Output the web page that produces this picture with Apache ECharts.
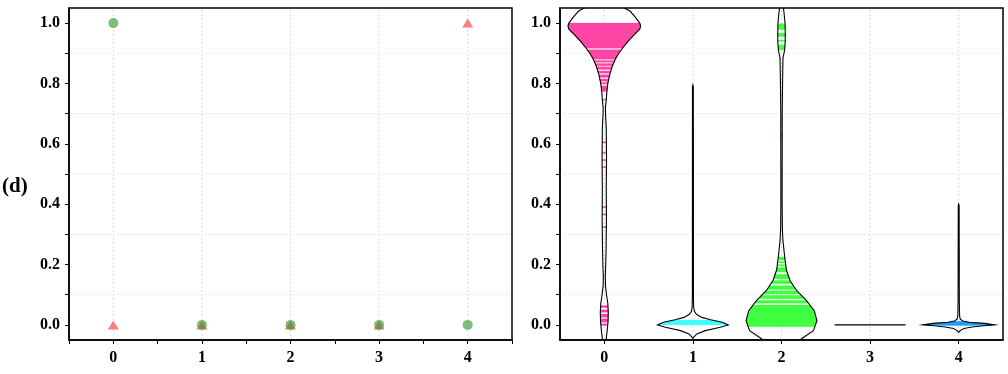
<!DOCTYPE html>
<html><head><meta charset="utf-8">
<script src="https://cdn.jsdelivr.net/npm/echarts@6/dist/echarts.min.js"></script>
<style>html,body{margin:0;padding:0;background:#fff}#c{width:1008px;height:374px}</style>
</head><body><div id="c"></div>
<script>
// ---- data ----
const categories = [0, 1, 2, 3, 4];
const circleVals = [1, 0, 0, 0, 0];
const triangleVals = [0, 0, 0, 0, 1];
const yLabelVals = [0, 0.2, 0.4, 0.6, 0.8, 1.0];
const yTickVals = [0, 0.1, 0.2, 0.3, 0.4, 0.5, 0.6, 0.7, 0.8, 0.9, 1.0];
const xTickValsLeft = [-0.5, 0, 0.5, 1, 1.5, 2, 2.5, 3, 3.5, 4, 4.5];
const xTickValsRight = [0, 1, 2, 3, 4];
const hGridVals = [0.1, 0.3, 0.5, 0.7, 0.9];

// violin outlines: [y, half width in category units]
const violin0Outline = [[-0.12,0],[-0.05,0.02],[-0.02,0.032],[0.01,0.042],[0.04,0.045],[0.07,0.04],[0.10,0.025],[0.13,0.013],[0.16,0.011],[0.20,0.016],[0.25,0.02],[0.35,0.024],[0.45,0.022],[0.55,0.025],[0.65,0.022],[0.70,0.014],[0.72,0.013],[0.745,0.022],[0.77,0.028],[0.80,0.04],[0.83,0.062],[0.857,0.09],[0.88,0.124],[0.90,0.163],[0.92,0.214],[0.94,0.27],[0.96,0.333],[0.98,0.40],[0.99,0.41],[1.00,0.40],[1.02,0.35],[1.04,0.29],[1.05,0.225],[1.07,0.1],[1.09,0]];
const violin1Outline = [[-0.045,0],[-0.04,0.01],[-0.03,0.045],[-0.019,0.14],[-0.008,0.31],[0.0,0.40],[0.009,0.33],[0.017,0.2],[0.025,0.1],[0.035,0.04],[0.045,0.017],[0.06,0.008],[0.1,0.006],[0.79,0.005],[0.795,0]];
const violin2Outline = [[-0.12,0],[-0.08,0.12],[-0.046,0.225],[-0.019,0.36],[0.014,0.40],[0.047,0.37],[0.081,0.28],[0.114,0.17],[0.147,0.096],[0.181,0.056],[0.215,0.04],[0.247,0.028],[0.28,0.016],[0.32,0.01],[0.4,0.007],[0.6,0.008],[0.7,0.008],[0.8,0.012],[0.86,0.015],[0.885,0.017],[0.91,0.035],[0.94,0.042],[0.97,0.042],[1.0,0.04],[1.03,0.03],[1.05,0.022],[1.08,0.01],[1.1,0]];
const violin3Outline = [[0.0,0.40]];
const violin4Outline = [[-0.025,0],[-0.018,0.02],[-0.012,0.06],[-0.007,0.15],[-0.003,0.28],[0.0,0.405],[0.005,0.29],[0.009,0.12],[0.013,0.045],[0.02,0.017],[0.03,0.01],[0.08,0.007],[0.395,0.005],[0.40,0]];

// coloured stick bands inside each violin: [y0, y1]
const violin0Bands = [[0.917,1.0],[0.880,0.912],[0.870,0.876],[0.859,0.866],[0.846,0.855],[0.834,0.841],[0.820,0.829],[0.807,0.815],[0.798,0.803],[0.773,0.792],[0.744,0.748],[0.603,0.607],[0.568,0.572],[0.544,0.548],[0.521,0.525],[0.388,0.392],[0.364,0.368],[0.322,0.326],[0.057,0.064],[0.042,0.050],[0.025,0.036],[0.009,0.020],[-0.002,0.004]];
const violin1Bands = [[0.0,0.016]];
const violin2Bands = [[-0.006,0.066],[0.072,0.082],[0.087,0.098],[0.102,0.113],[0.117,0.13],[0.136,0.147],[0.152,0.168],[0.175,0.19],[0.195,0.2],[0.205,0.21],[0.215,0.225],[0.62,0.635],[0.911,0.928],[0.939,0.944],[0.955,0.967],[0.978,0.998]];
const violin3Bands = [];
const violin4Bands = [[-0.002,0.012]];

const violinColors = ['#FF45A5', '#3FFFFF', '#40FF40', '#888888', '#1E9BFF'];
const outlines = [violin0Outline, violin1Outline, violin2Outline, violin3Outline, violin4Outline];
const bandsList = [violin0Bands, violin1Bands, violin2Bands, violin3Bands, violin4Bands];

// ---- chart ----
const FONT = 'Liberation Serif';
const labelStyle = {fontFamily: FONT, fontWeight: 'bold', fontSize: 16, color: '#000'};

function hwAt(outline, y) {
  if (y <= outline[0][0]) return outline[0][1];
  for (let k = 0; k < outline.length - 1; k++) {
    const a = outline[k], b = outline[k + 1];
    if (y >= a[0] && y <= b[0]) return a[1] + (b[1] - a[1]) * (y - a[0]) / (b[0] - a[0]);
  }
  return outline[outline.length - 1][1];
}

function violinRender(params, api) {
  const i = params.dataIndex;
  const cx = categories[i];
  const outline = outlines[i];
  const children = [];
  bandsList[i].forEach(([a, b]) => {
    const ys = [a].concat(outline.filter(p => p[0] > a && p[0] < b).map(p => p[0]), [b]);
    const pts = ys.map(y => api.coord([cx + hwAt(outline, y), y]))
      .concat(ys.slice().reverse().map(y => api.coord([cx - hwAt(outline, y), y])));
    children.push({type: 'polygon', shape: {points: pts}, style: {fill: violinColors[i], stroke: violinColors[i], lineWidth: 0.3}});
  });
  const pts = outline.map(p => api.coord([cx + p[1], p[0]]))
    .concat(outline.slice().reverse().map(p => api.coord([cx - p[1], p[0]])));
  children.push({type: 'polygon', shape: {points: pts}, style: {fill: 'none', stroke: '#000', lineWidth: 1.1}});
  return {type: 'group', children};
}

function vGridRender(params, api) {
  const x = api.value(0);
  const p0 = api.coord([x, -0.05]), p1 = api.coord([x, 1.05]);
  return {type: 'line', shape: {x1: p0[0], y1: p0[1], x2: p1[0], y2: p1[1]}, style: {stroke: '#d4d4d4', lineWidth: 0.8, lineDash: [2, 2]}};
}
function hGridRender(params, api) {
  const y = api.value(0);
  const p0 = api.coord([-0.5, y]), p1 = api.coord([4.5, y]);
  return {type: 'line', shape: {x1: p0[0], y1: p0[1], x2: p1[0], y2: p1[1]}, style: {stroke: '#e0e0e0', lineWidth: 0.8, lineDash: [2, 2]}};
}

function xAxis(gridIndex, tickVals) {
  return {
    type: 'value', gridIndex, min: -0.5, max: 4.5, z: 10,
    axisLine: {show: true, onZero: false, lineStyle: {color: '#000', width: 1.5}},
    axisTick: {show: true, inside: false, length: 4, customValues: tickVals, lineStyle: {color: '#000', width: 1}},
    axisLabel: Object.assign({margin: 10, customValues: categories, formatter: v => String(v)}, labelStyle),
    splitLine: {show: false}
  };
}
function yAxis(gridIndex) {
  return {
    type: 'value', gridIndex, min: -0.05, max: 1.05, z: 10,
    axisLine: {show: true, onZero: false, lineStyle: {color: '#000', width: 1.5}},
    axisTick: {show: true, inside: false, length: 4, customValues: yTickVals, lineStyle: {color: '#000', width: 1}},
    axisLabel: Object.assign({margin: 9, customValues: yLabelVals, formatter: v => v.toFixed(1)}, labelStyle),
    splitLine: {show: false}
  };
}

const chart = echarts.init(document.getElementById('c'), null, {renderer: 'canvas'});
chart.setOption({
  animation: false,
  backgroundColor: '#fff',
  grid: [
    {left: 69, top: 8, width: 443, height: 332, show: true, borderColor: '#000', borderWidth: 1.5, backgroundColor: 'transparent'},
    {left: 560, top: 8, width: 443, height: 332, show: true, borderColor: '#000', borderWidth: 1.5, backgroundColor: 'transparent'}
  ],
  xAxis: [xAxis(0, xTickValsLeft), xAxis(1, xTickValsRight)],
  yAxis: [yAxis(0), yAxis(1)],
  graphic: [{type: 'text', left: 2, top: 176, style: {text: '(d)', font: 'bold 21px "Liberation Serif"', fill: '#000'}}],
  series: [
    {type: 'custom', xAxisIndex: 0, yAxisIndex: 0, z: 1, silent: true, renderItem: vGridRender, data: categories.map(c => [c])},
    {type: 'custom', xAxisIndex: 0, yAxisIndex: 0, z: 1, silent: true, renderItem: hGridRender, data: hGridVals.map(v => [v])},
    {type: 'custom', xAxisIndex: 1, yAxisIndex: 1, z: 1, silent: true, renderItem: vGridRender, data: categories.map(c => [c])},
    {type: 'custom', xAxisIndex: 1, yAxisIndex: 1, z: 1, silent: true, renderItem: hGridRender, data: hGridVals.map(v => [v])},
    {type: 'scatter', xAxisIndex: 0, yAxisIndex: 0, z: 3, symbol: 'triangle', symbolSize: [11, 9],
      itemStyle: {color: '#ff6e6e', opacity: 0.9}, data: categories.map((c, i) => [c, triangleVals[i]])},
    {type: 'scatter', xAxisIndex: 0, yAxisIndex: 0, z: 4, symbol: 'circle', symbolSize: 10,
      itemStyle: {color: '#3a9a3a', opacity: 0.65}, data: categories.map((c, i) => [c, circleVals[i]])},
    {type: 'custom', xAxisIndex: 1, yAxisIndex: 1, z: 3, clip: true, silent: true, renderItem: violinRender,
      data: categories.map(c => [c, 0])}
  ]
});
</script></body></html>
